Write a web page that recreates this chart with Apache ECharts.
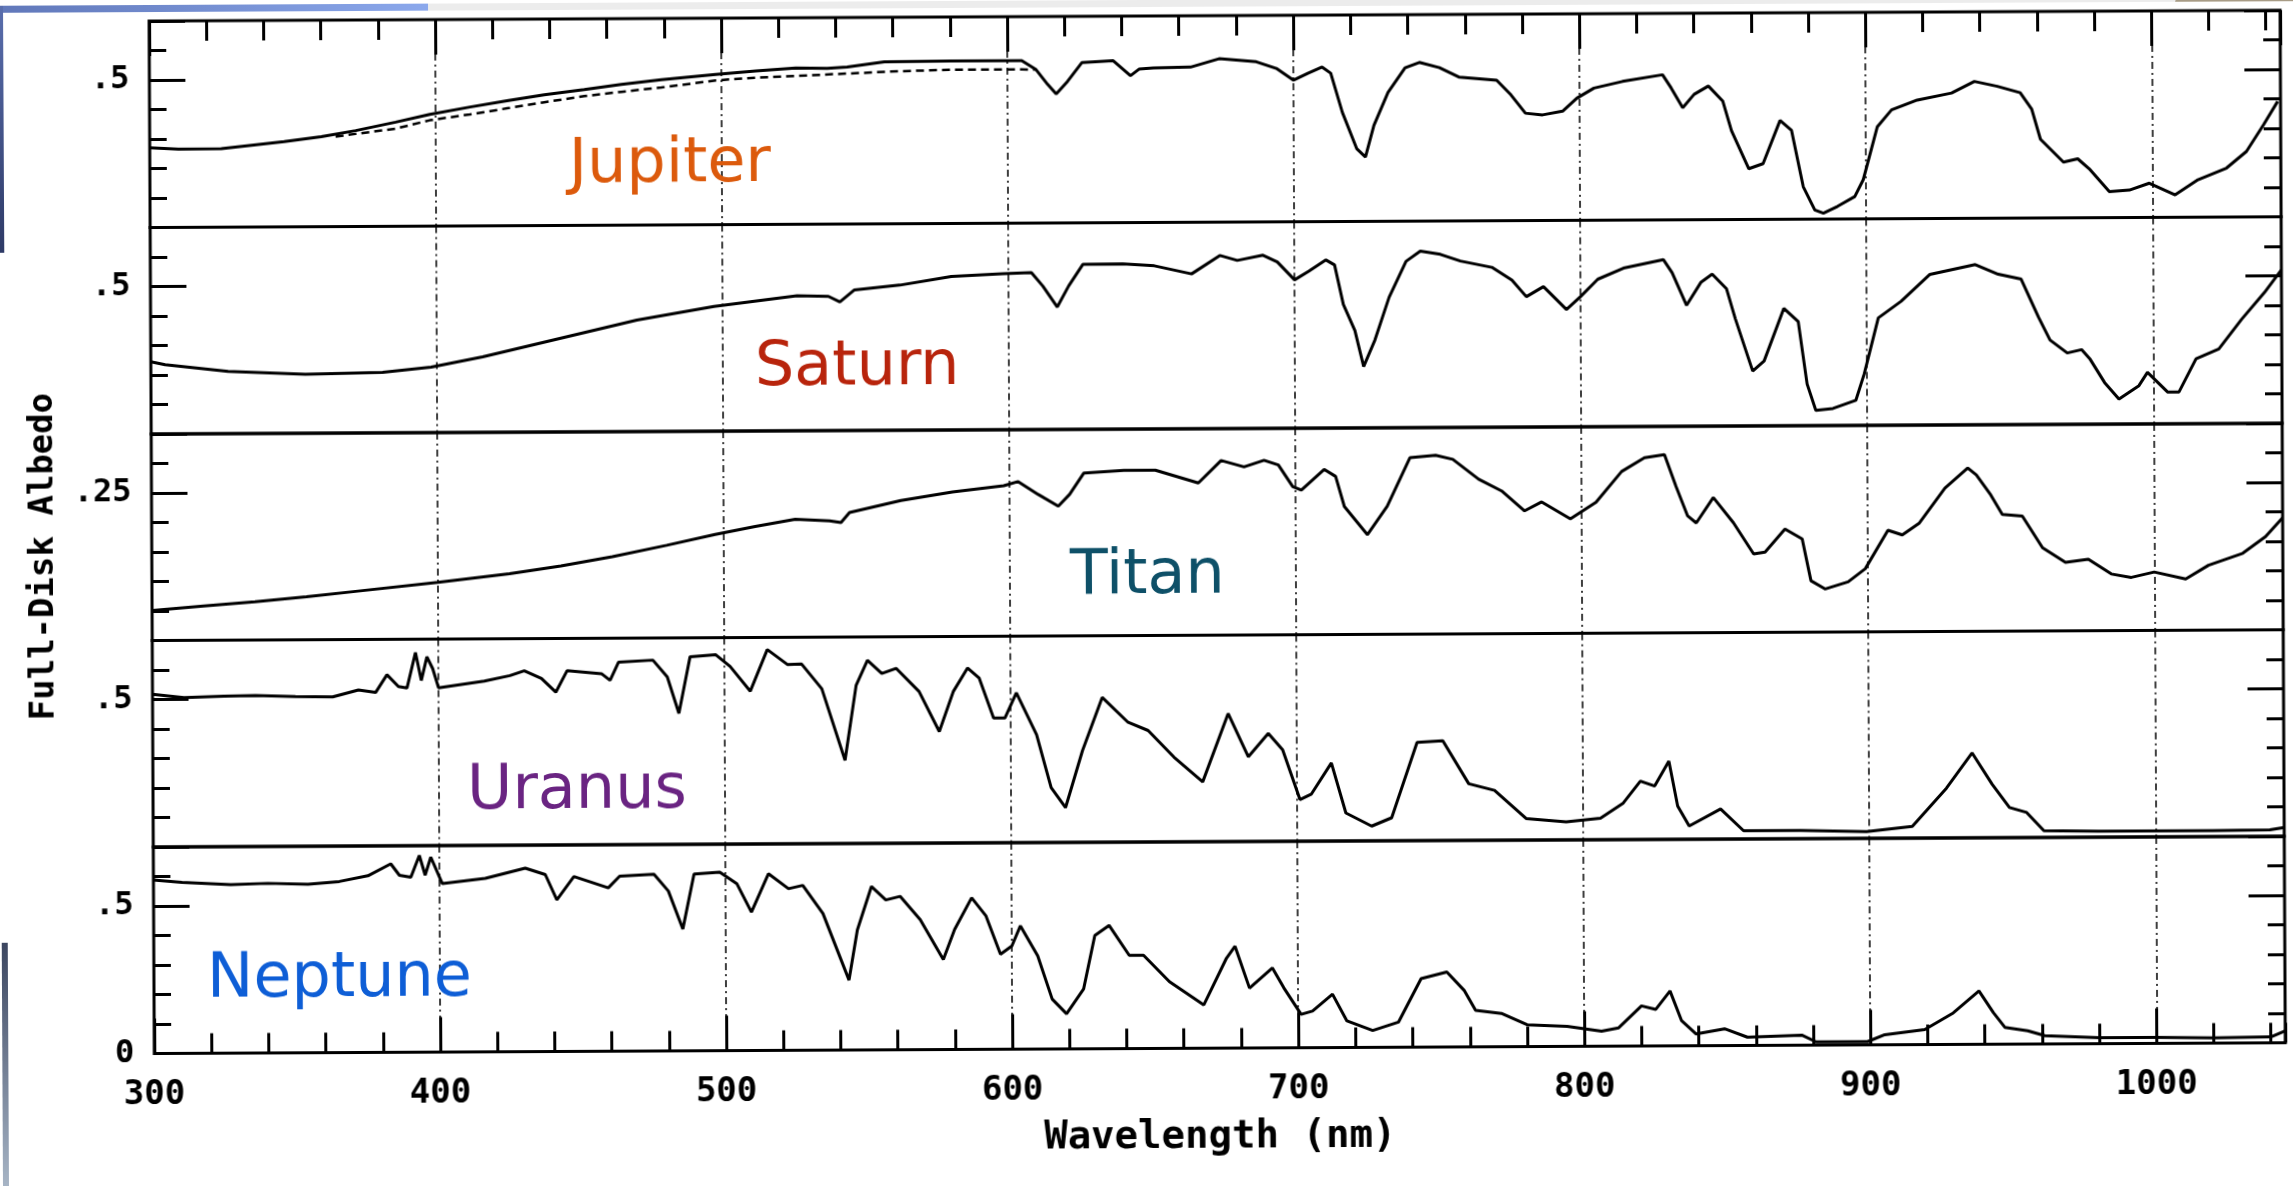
<!DOCTYPE html>
<html>
<head>
<meta charset="utf-8">
<title>Full-Disk Albedo</title>
<script src="https://cdn.jsdelivr.net/npm/echarts@6/dist/echarts.min.js"></script>
<style>
    html, body { margin: 0; padding: 0; background: #fff; overflow: hidden; }
    /* the scanned figure sits slightly tilted on the slide */
    #albedo-chart { width: 2296px; height: 1186px; transform: rotate(-0.29deg); }
</style>
</head>
<body>
<div id="albedo-chart"></div>
<script>
// panels, top to bottom
var planets = ['Jupiter', 'Saturn', 'Titan', 'Uranus', 'Neptune'];
var planetColors = ['#DC5A0C', '#B8240C', '#0E5068', '#6A2482', '#0E5ED6'];
var yMax = [0.7, 0.7, 0.35, 0.7, 0.7];
var yStep = [0.1, 0.1, 0.05, 0.1, 0.1];
var yLabelValue = [0.5, 0.5, 0.25, 0.5, 0.5];
var yLabelText = ['.5', '.5', '.25', '.5', '.5'];
var xMin = 300, xMax = 1045;

// [wavelength nm, albedo]
var jupiter = [[300,0.27],[310,0.265],[325,0.266],[347,0.289],[360,0.305],[372,0.325],[386,0.353],[398,0.379],[412,0.403],[425,0.424],[438,0.443],[452,0.46],[465,0.477],[479,0.492],[498,0.509],[512,0.52],[526,0.53],[537,0.528],[544,0.532],[557,0.549],[580,0.551],[605,0.551],[610,0.52],[614,0.47],[617,0.437],[621,0.48],[626,0.543],[637,0.549],[643,0.498],[646,0.52],[651,0.524],[664,0.526],[674,0.554],[687,0.543],[694,0.52],[700,0.48],[705,0.503],[710,0.524],[713,0.503],[717,0.37],[722,0.246],[725,0.218],[728,0.325],[733,0.437],[739,0.52],[744,0.538],[751,0.52],[758,0.487],[771,0.476],[776,0.426],[781,0.364],[787,0.358],[794,0.37],[799,0.414],[805,0.448],[815,0.47],[829,0.492],[832,0.447],[836,0.38],[840,0.425],[845,0.453],[850,0.402],[853,0.301],[859,0.172],[864,0.189],[870,0.335],[874,0.301],[878,0.11],[882,0.031],[885,0.02],[890,0.043],[896,0.076],[899,0.133],[904,0.312],[909,0.369],[918,0.402],[930,0.425],[938,0.464],[946,0.447],[954,0.425],[958,0.369],[961,0.267],[969,0.189],[974,0.2],[978,0.166],[985,0.088],[992,0.093],[999,0.116],[1008,0.076],[1016,0.127],[1026,0.166],[1033,0.222],[1039,0.312],[1044,0.391]];
var jupiterDash = [[365,0.305],[372,0.314],[386,0.331],[398,0.359],[412,0.378],[425,0.398],[438,0.418],[452,0.438],[465,0.452],[479,0.466],[498,0.489],[512,0.498],[526,0.503],[544,0.51],[562,0.517],[580,0.521],[605,0.521],[610,0.52]];
var saturn = [[300,0.245],[305,0.235],[327,0.211],[354,0.2],[381,0.205],[398,0.222],[416,0.256],[443,0.317],[470,0.378],[497,0.423],[526,0.458],[537,0.455],[541,0.436],[546,0.476],[562,0.492],[580,0.52],[598,0.529],[608,0.532],[612,0.486],[617,0.415],[621,0.486],[626,0.559],[640,0.56],[651,0.553],[664,0.525],[674,0.587],[680,0.57],[689,0.587],[694,0.564],[700,0.503],[705,0.532],[711,0.57],[714,0.553],[717,0.419],[721,0.33],[724,0.208],[728,0.298],[733,0.442],[739,0.564],[744,0.598],[751,0.587],[758,0.564],[769,0.542],[776,0.498],[781,0.442],[787,0.476],[795,0.398],[800,0.442],[806,0.5],[815,0.537],[829,0.565],[832,0.521],[837,0.41],[842,0.487],[846,0.515],[851,0.465],[854,0.364],[860,0.186],[864,0.22],[871,0.398],[876,0.353],[879,0.141],[882,0.052],[888,0.058],[896,0.085],[899,0.175],[904,0.364],[912,0.42],[922,0.51],[938,0.543],[946,0.51],[954,0.493],[960,0.364],[964,0.286],[970,0.242],[975,0.253],[978,0.22],[983,0.141],[988,0.085],[995,0.13],[998,0.175],[1005,0.108],[1009,0.108],[1015,0.22],[1023,0.253],[1031,0.353],[1039,0.443],[1045,0.52]];
var titan = [[300,0.051],[318,0.058],[336,0.065],[354,0.073],[372,0.082],[400,0.096],[425,0.11],[443,0.123],[461,0.138],[480,0.157],[497,0.175],[511,0.188],[525,0.2],[537,0.197],[541,0.194],[544,0.211],[562,0.231],[580,0.245],[598,0.255],[603,0.262],[610,0.24],[617,0.22],[621,0.24],[626,0.276],[640,0.28],[651,0.28],[666,0.258],[674,0.296],[682,0.285],[689,0.296],[694,0.288],[699,0.251],[702,0.245],[710,0.28],[714,0.268],[717,0.217],[725,0.169],[732,0.217],[740,0.299],[749,0.303],[755,0.296],[764,0.262],[772,0.242],[780,0.208],[786,0.223],[796,0.194],[805,0.222],[814,0.274],[822,0.297],[829,0.302],[833,0.248],[837,0.198],[840,0.186],[846,0.229],[853,0.186],[860,0.133],[864,0.136],[871,0.175],[877,0.158],[880,0.087],[885,0.073],[893,0.085],[899,0.107],[907,0.172],[912,0.164],[918,0.184],[927,0.243],[935,0.277],[938,0.265],[943,0.231],[947,0.198],[954,0.195],[961,0.141],[969,0.116],[977,0.121],[985,0.096],[992,0.09],[1000,0.099],[1011,0.087],[1019,0.11],[1031,0.13],[1039,0.158],[1045,0.19]];
var uranus = [[300,0.518],[311,0.506],[325,0.51],[336,0.512],[350,0.508],[363,0.506],[372,0.529],[378,0.52],[382,0.58],[386,0.54],[389,0.535],[392,0.655],[394,0.56],[396,0.64],[398,0.6],[400,0.535],[416,0.557],[425,0.575],[430,0.591],[436,0.565],[441,0.518],[445,0.591],[457,0.58],[460,0.557],[463,0.619],[475,0.625],[480,0.568],[484,0.444],[488,0.636],[497,0.642],[502,0.602],[509,0.518],[515,0.659],[522,0.608],[527,0.609],[534,0.525],[542,0.282],[546,0.536],[550,0.621],[555,0.576],[560,0.593],[568,0.514],[575,0.378],[580,0.514],[585,0.593],[589,0.559],[594,0.423],[598,0.423],[602,0.508],[609,0.366],[614,0.186],[619,0.118],[625,0.31],[632,0.491],[641,0.406],[648,0.378],[657,0.287],[667,0.203],[676,0.434],[683,0.287],[690,0.366],[695,0.31],[701,0.141],[705,0.16],[712,0.265],[717,0.095],[726,0.05],[733,0.078],[742,0.333],[751,0.338],[760,0.192],[769,0.169],[780,0.073],[794,0.061],[806,0.073],[814,0.124],[820,0.198],[825,0.181],[830,0.265],[833,0.113],[837,0.045],[848,0.102],[856,0.028],[876,0.028],[899,0.023],[915,0.04],[927,0.169],[936,0.288],[943,0.181],[949,0.102],[955,0.085],[961,0.023],[980,0.02],[1000,0.02],[1020,0.02],[1040,0.022],[1045,0.03]];
var neptune = [[300,0.588],[310,0.58],[327,0.571],[340,0.575],[354,0.571],[365,0.58],[375,0.599],[383,0.639],[386,0.6],[390,0.593],[393,0.667],[395,0.6],[397,0.661],[401,0.571],[416,0.588],[430,0.622],[437,0.6],[441,0.514],[447,0.593],[459,0.554],[463,0.593],[475,0.599],[480,0.542],[485,0.413],[489,0.599],[498,0.605],[504,0.565],[509,0.469],[515,0.599],[522,0.548],[527,0.559],[534,0.463],[543,0.237],[546,0.407],[551,0.554],[556,0.508],[561,0.52],[568,0.441],[576,0.305],[580,0.407],[586,0.514],[591,0.452],[596,0.322],[600,0.35],[603,0.418],[609,0.316],[614,0.169],[619,0.119],[625,0.203],[629,0.384],[634,0.418],[641,0.316],[646,0.316],[655,0.226],[667,0.147],[675,0.305],[678,0.345],[683,0.203],[691,0.271],[695,0.203],[701,0.113],[705,0.124],[712,0.181],[717,0.09],[726,0.057],[735,0.085],[743,0.232],[752,0.254],[758,0.192],[762,0.124],[771,0.113],[780,0.074],[794,0.068],[806,0.051],[812,0.062],[820,0.136],[825,0.124],[830,0.186],[834,0.085],[839,0.04],[849,0.057],[857,0.028],[876,0.034],[881,0.011],[899,0.011],[905,0.034],[919,0.051],[929,0.107],[938,0.181],[943,0.107],[947,0.057],[955,0.045],[961,0.028],[980,0.02],[1000,0.02],[1020,0.018],[1040,0.02],[1045,0.04]];

var curves = [jupiter, saturn, titan, uranus, neptune];

var monoFont = 'DejaVu Sans Mono';
var gridTop = [16, 222.5, 429, 635.5, 842];
var panelH = 206.5;
// planet name positions (left, text middle)
var namePos = [[571, 168], [756, 372], [1070, 582], [466, 794], [205, 981]];

var myChart = echarts.init(document.getElementById('albedo-chart'));

var grids = [], xAxes = [], yAxes = [], series = [], graphics = [];

for (var i = 0; i < planets.length; i++) {
    var outer = (i === 0 || i === planets.length - 1);
    var isBottom = (i === planets.length - 1);
    var xPos = i === 0 ? 'top' : 'bottom';
    grids.push({
        left: 152, right: 13, top: gridTop[i], height: panelH,
        show: true, borderColor: '#000', borderWidth: 3, backgroundColor: 'transparent'
    });
    // major x ticks (100 nm) + dash-dot guide lines
    xAxes.push({
        gridIndex: i, type: 'value', min: xMin, max: xMax, interval: 100,
        position: xPos,
        axisLine: {show: false, onZero: false},
        axisTick: {show: outer, inside: true, length: 35, lineStyle: {color: '#000', width: 3}},
        axisLabel: {
            show: isBottom, margin: 25, showMaxLabel: false,
            color: '#000', fontFamily: monoFont, fontWeight: 'bold', fontSize: 34,
            formatter: function (v) { return String(v); }
        },
        splitLine: {show: true, lineStyle: {color: '#000', width: 1.5, type: [7, 4, 2, 4]}},
        name: isBottom ? 'Wavelength (nm)' : '',
        nameLocation: 'middle', nameGap: 70,
        nameTextStyle: {color: '#000', fontFamily: monoFont, fontWeight: 'bold', fontSize: 39}
    });
    // minor x ticks (20 nm)
    xAxes.push({
        gridIndex: i, type: 'value', min: xMin, max: xMax, interval: 20,
        position: xPos,
        axisLine: {show: false, onZero: false},
        axisTick: {show: outer, inside: true, length: 20, lineStyle: {color: '#000', width: 3}},
        axisLabel: {show: false},
        splitLine: {show: false}
    });

    ['left', 'right'].forEach(function (side) {
        // small y ticks
        yAxes.push({
            gridIndex: i, type: 'value', position: side, min: 0, max: yMax[i], interval: yStep[i],
            axisLine: {show: false, onZero: false},
            axisTick: {show: true, inside: true, length: 17, lineStyle: {color: '#000', width: 3}},
            axisLabel: {show: false},
            splitLine: {show: false}
        });
        // long labelled y tick
        yAxes.push({
            gridIndex: i, type: 'value', position: side, min: 0, max: yMax[i], interval: yLabelValue[i],
            axisLine: {show: false, onZero: false},
            axisTick: {show: true, inside: true, length: 36, lineStyle: {color: '#000', width: 3}},
            axisLabel: {
                show: side === 'left', margin: 20,
                color: '#000', fontFamily: monoFont, fontWeight: 'bold', fontSize: 32,
                formatter: (function (k) {
                    return function (v) {
                        if (Math.abs(v - yLabelValue[k]) < 1e-6) return yLabelText[k];
                        if (k === planets.length - 1 && v === 0) return '0';
                        return '';
                    };
                })(i)
            },
            splitLine: {show: false}
        });
    });

    series.push({
        name: planets[i], type: 'line',
        xAxisIndex: 2 * i, yAxisIndex: 4 * i,
        data: curves[i], showSymbol: false, silent: true,
        lineStyle: {color: '#000', width: 3}
    });

    graphics.push({
        type: 'text', left: namePos[i][0], top: namePos[i][1] - 36, z: 10,
        style: {text: planets[i], fill: planetColors[i], font: '62px "DejaVu Sans"'}
    });
}

// Jupiter second (dashed) trace
series.push({
    name: 'Jupiter (dashed)', type: 'line',
    xAxisIndex: 0, yAxisIndex: 0,
    data: jupiterDash, showSymbol: false, silent: true,
    lineStyle: {color: '#000', width: 2.5, type: [8, 5]}
});

// y axis title
graphics.push({
    type: 'text', x: 44, y: 551, rotation: Math.PI / 2, z: 10,
    style: {
        text: 'Full-Disk Albedo', fill: '#000', align: 'center', verticalAlign: 'middle',
        font: 'bold 34px "DejaVu Sans Mono"'
    }
});

// bits of the slide around the scanned figure
graphics.push(
    {type: 'rect', shape: {x: -10, y: -10, width: 2320, height: 17}, style: {fill: '#ECECEC'}, z: -1},
    {type: 'rect', shape: {x: -10, y: -10, width: 441, height: 17}, z: -1,
        style: {fill: new echarts.graphic.LinearGradient(0, 0, 1, 0, [{offset: 0, color: '#5F76B8'}, {offset: 1, color: '#8BA8EC'}])}},
    {type: 'rect', shape: {x: -10, y: -10, width: 16, height: 257}, z: -1,
        style: {fill: new echarts.graphic.LinearGradient(0, 0, 0, 1, [{offset: 0, color: '#5B70B0'}, {offset: 1, color: '#2E3A66'}])}},
    {type: 'rect', shape: {x: -10, y: 937, width: 16, height: 260}, z: -1,
        style: {fill: new echarts.graphic.LinearGradient(0, 0, 0, 1, [{offset: 0, color: '#3C4660'}, {offset: 1, color: '#AEBCCC'}])}},
    {type: 'polygon', shape: {points: [[2178, 7], [2184, -10], [2310, -10], [2310, 7]]}, z: -1,
        style: {fill: '#A89C86'}}
);

var option = {
    backgroundColor: '#fff',
    animation: false,
    grid: grids,
    xAxis: xAxes,
    yAxis: yAxes,
    series: series,
    graphic: graphics
};
myChart.setOption(option);
</script>
</body>
</html>
